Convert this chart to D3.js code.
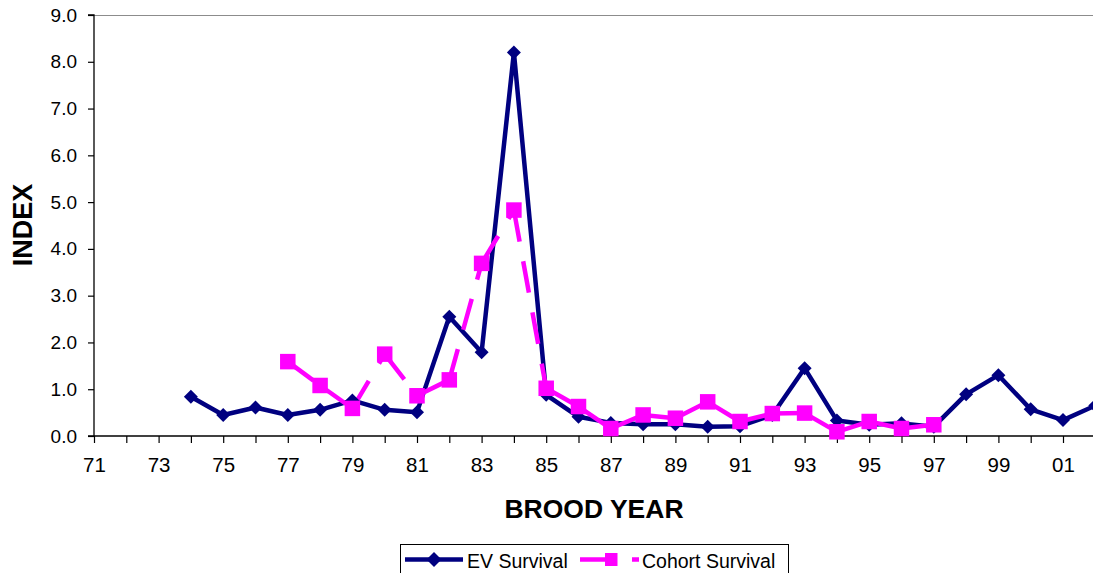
<!DOCTYPE html>
<html>
<head>
<meta charset="utf-8">
<script src="https://cdn.jsdelivr.net/npm/d3@7/dist/d3.min.js"></script>
<style>
  html, body { margin: 0; padding: 0; background: #fff; }
  svg { display: block; font-family: Arial, "Liberation Sans", sans-serif; }
</style>
</head>
<body>
<svg id="chart" width="1093" height="573"></svg>
<script>
// Brood years (two-digit labels)
const broodYears = ["71","72","73","74","75","76","77","78","79","80",
                    "81","82","83","84","85","86","87","88","89","90",
                    "91","92","93","94","95","96","97","98","99","00",
                    "01","02"];

// Labelled ticks on the year axis
const yearTickLabels = ["71","73","75","77","79","81","83","85","87","89",
                        "91","93","95","97","99","01"];

// EV survival index by brood year
const evSurvival = [null, null, null, 0.84, 0.45, 0.61, 0.45, 0.56, 0.76, 0.56,
                    0.51, 2.55, 1.79, 8.20, 0.88, 0.41, 0.28, 0.25, 0.25, 0.20,
                    0.21, 0.45, 1.45, 0.33, 0.24, 0.27, 0.20, 0.89, 1.30, 0.57,
                    0.34, 0.65];

// Cohort survival index by brood year
const cohortSurvival = [null, null, null, null, null, null, 1.59, 1.08, 0.59, 1.75,
                        0.86, 1.20, 3.69, 4.83, 1.02, 0.63, 0.16, 0.45, 0.38, 0.73,
                        0.31, 0.48, 0.49, 0.09, 0.31, 0.16, 0.24, null, null, null,
                        null, null];

// Index axis ticks
const indexTicks = [0, 1, 2, 3, 4, 5, 6, 7, 8, 9];

const seriesNames = ["EV Survival", "Cohort Survival"];

const svg = d3.select("#chart");

const plot = { left: 94, right: 1095.3, top: 15, bottom: 436 };

const x = d3.scalePoint().domain(broodYears).range([plot.left, plot.right]);
const y = d3.scaleLinear().domain([0, 9]).range([plot.bottom, plot.top]);

const navy = "#000080";
const magenta = "#FF00FF";

// Plot-area top border
svg.append("line")
  .attr("x1", plot.left).attr("x2", 1093)
  .attr("y1", plot.top + 0.5).attr("y2", plot.top + 0.5)
  .attr("stroke", "#8c8c8c").attr("stroke-width", 1.2);

// Y axis
const yAxis = d3.axisLeft(y)
  .tickValues(indexTicks)
  .tickFormat(d3.format(".1f"))
  .tickSize(6)
  .tickPadding(11);
const gy = svg.append("g")
  .attr("transform", `translate(${plot.left},0)`)
  .call(yAxis);
gy.select(".domain").attr("stroke", "#000").attr("stroke-width", 1.3)
  .attr("d", `M-6,${plot.top}H0V${plot.bottom}H-6`);
gy.selectAll(".tick line").attr("stroke", "#000").attr("stroke-width", 1.2);
gy.selectAll(".tick text")
  .attr("font-size", 19).attr("fill", "#000")
  .attr("font-family", "Arial, 'Liberation Sans', sans-serif");

// X axis
const xAxis = d3.axisBottom(x)
  .tickSize(7)
  .tickPadding(14)
  .tickFormat(d => yearTickLabels.includes(d) ? d : "");
const gx = svg.append("g")
  .attr("transform", `translate(0,${plot.bottom})`)
  .call(xAxis);
gx.select(".domain").attr("stroke", "#000").attr("stroke-width", 1.3)
  .attr("d", `M${plot.left},0H${plot.right}`);
gx.selectAll(".tick line").attr("stroke", "#000").attr("stroke-width", 1.2);
gx.selectAll(".tick text")
  .attr("font-size", 20.5).attr("fill", "#000")
  .attr("font-family", "Arial, 'Liberation Sans', sans-serif");

// Axis titles
svg.append("text")
  .attr("x", 594).attr("y", 517.5)
  .attr("text-anchor", "middle")
  .attr("font-size", 26.5).attr("font-weight", "bold")
  .text("BROOD YEAR");

svg.append("text")
  .attr("transform", "translate(32,225) rotate(-90)")
  .attr("text-anchor", "middle")
  .attr("font-size", 27).attr("font-weight", "bold")
  .text("INDEX");

// Series points
const evPts = broodYears.map((yr, i) => ({ yr, v: evSurvival[i] })).filter(d => d.v !== null);
const coPts = broodYears.map((yr, i) => ({ yr, v: cohortSurvival[i] })).filter(d => d.v !== null);

const lineGen = d3.line().x(d => x(d.yr)).y(d => y(d.v));

// EV survival line (solid)
svg.append("path")
  .datum(evPts)
  .attr("d", lineGen)
  .attr("fill", "none")
  .attr("stroke", navy)
  .attr("stroke-width", 4.5)
  .attr("stroke-linejoin", "round");

// Cohort survival line: long dashes, pattern restarting on each segment
const dash = "32,20";
const coSegs = d3.pairs(coPts);
svg.append("g").selectAll("line")
  .data(coSegs)
  .join("line")
  .attr("x1", d => x(d[0].yr)).attr("y1", d => y(d[0].v))
  .attr("x2", d => x(d[1].yr)).attr("y2", d => y(d[1].v))
  .attr("stroke", magenta)
  .attr("stroke-width", 4.5)
  .attr("stroke-dasharray", dash)
  .attr("stroke-linecap", "butt");

// Markers
const diamond = d3.symbol().type(d3.symbolSquare).size(98);
svg.append("g").selectAll("path")
  .data(evPts)
  .join("path")
  .attr("d", diamond)
  .attr("transform", d => `translate(${x(d.yr)},${y(d.v)}) rotate(45)`)
  .attr("fill", navy);

const sq = 15.5;
svg.append("g").selectAll("rect")
  .data(coPts)
  .join("rect")
  .attr("x", d => x(d.yr) - sq / 2)
  .attr("y", d => y(d.v) - sq / 2)
  .attr("width", sq).attr("height", sq)
  .attr("fill", magenta);

// Legend
const legend = svg.append("g");
legend.append("rect")
  .attr("x", 400.5).attr("y", 544.5)
  .attr("width", 388).attr("height", 36)
  .attr("fill", "#fff").attr("stroke", "#000").attr("stroke-width", 1);

const legY = 559.5;
// EV sample
legend.append("line")
  .attr("x1", 405).attr("x2", 463).attr("y1", legY).attr("y2", legY)
  .attr("stroke", navy).attr("stroke-width", 4.5);
legend.append("path")
  .attr("d", d3.symbol().type(d3.symbolSquare).size(112)())
  .attr("transform", `translate(434,${legY}) rotate(45)`)
  .attr("fill", navy);
legend.append("text")
  .attr("x", 467).attr("y", 567.5)
  .attr("font-size", 19.5)
  .text(seriesNames[0]);

// Cohort sample
legend.append("line")
  .attr("x1", 580).attr("x2", 639).attr("y1", legY).attr("y2", legY)
  .attr("stroke", magenta).attr("stroke-width", 4.5)
  .attr("stroke-dasharray", dash);
legend.append("rect")
  .attr("x", 605).attr("y", legY - 6.5)
  .attr("width", 12.5).attr("height", 13)
  .attr("fill", magenta);
legend.append("text")
  .attr("x", 642).attr("y", 567.5)
  .attr("font-size", 19.5)
  .text(seriesNames[1]);
</script>
</body>
</html>
